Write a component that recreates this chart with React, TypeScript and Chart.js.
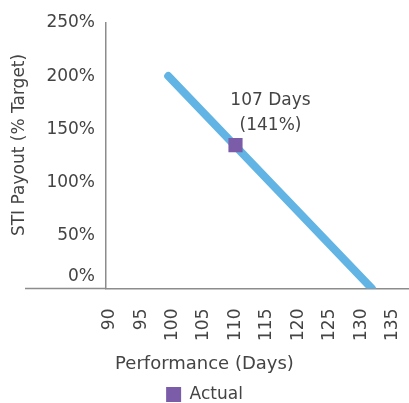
import { useEffect, useRef } from 'react';
import { Chart, registerables } from 'chart.js';

Chart.register(...registerables);

const xTicks = [90, 95, 100, 105, 110, 115, 120, 125, 130, 135];
const yTicks = [0, 50, 100, 150, 200, 250];
const payoutCurveX = [99.3, 131.7];
const payoutCurveY = [200, 0];
const actualX = [110];
const actualY = [135];
const actualLabel = ['107 Days', '(141%)'];
const legendLabel = 'Actual';
const curveLabel = 'Payout curve';
const xTitle = 'Performance (Days)';
const yTitle = 'STI Payout (% Target)';

const FONT = "'DejaVu Sans', sans-serif";
const TEXT = '#444444';
const AXIS = '#8c8c8c';
const BLUE = '#62b4e4';
const PURPLE = '#7a5ca8';

export default function App() {
  const ref = useRef<HTMLCanvasElement | null>(null);

  useEffect(() => {
    document.body.style.margin = '0';
    const canvas = ref.current;
    if (!canvas) return;

    const axisExtension = {
      id: 'axisExtension',
      beforeDatasetsDraw(chart: any) {
        const { ctx, chartArea, scales } = chart;
        const y = scales.y.getPixelForValue(0);
        ctx.save();
        ctx.strokeStyle = AXIS;
        ctx.lineWidth = 1.5;
        ctx.beginPath();
        ctx.moveTo(chartArea.left - 81, y);
        ctx.lineTo(chartArea.left, y);
        ctx.stroke();
        ctx.restore();
      },
    };

    const pointLabel = {
      id: 'pointLabel',
      afterDatasetsDraw(chart: any) {
        const meta = chart.getDatasetMeta(1);
        const el = meta.data[0];
        if (!el) return;
        const { ctx } = chart;
        ctx.save();
        ctx.fillStyle = TEXT;
        ctx.font = `17px ${FONT}`;
        ctx.textAlign = 'center';
        ctx.textBaseline = 'middle';
        actualLabel.forEach((line, i) => {
          ctx.fillText(line, el.x + 35, el.y - 45 + i * 25);
        });
        ctx.restore();
      },
    };

    const chart = new Chart(canvas, {
      type: 'scatter',
      data: {
        datasets: [
          {
            type: 'line',
            label: curveLabel,
            data: payoutCurveX.map((x, i) => ({ x, y: payoutCurveY[i] })),
            borderColor: BLUE,
            backgroundColor: BLUE,
            borderWidth: 8,
            borderCapStyle: 'round',
            pointRadius: 0,
            showLine: true,
            fill: false,
            order: 1,
          } as any,
          {
            label: legendLabel,
            data: actualX.map((x, i) => ({ x, y: actualY[i] })),
            backgroundColor: PURPLE,
            borderColor: PURPLE,
            borderWidth: 0,
            pointStyle: 'rect',
            pointRadius: 10,
            order: 0,
          } as any,
        ],
      },
      options: {
        animation: false,
        responsive: true,
        maintainAspectRatio: false,
        layout: { autoPadding: false, padding: { top: 23, right: 0, bottom: -10, left: 0 } },
        scales: {
          x: {
            type: 'linear',
            min: 89.4,
            max: 137.6,
            afterBuildTicks: (scale: any) => {
              scale.ticks = xTicks.map((v) => ({ value: v }));
            },
            afterFit: (scale: any) => {
              scale.height = 51.4;
              scale.paddingRight = 0;
              scale.paddingLeft = 0;
            },
            grid: { display: true, drawOnChartArea: false, drawTicks: false, color: 'rgba(0,0,0,0)' },
            border: { display: true, color: AXIS, width: 1.5 },
            ticks: {
              minRotation: 90,
              maxRotation: 90,
              padding: 20,
              color: TEXT,
              font: { family: FONT, size: 17 },
              autoSkip: false,
            },
          },
          y: {
            type: 'linear',
            min: 0,
            max: 250,
            afterBuildTicks: (scale: any) => {
              scale.ticks = yTicks.map((v) => ({ value: v }));
            },
            afterFit: (scale: any) => {
              scale.width = 106;
              scale.paddingTop = 0;
              scale.paddingBottom = 0;
            },
            grid: { display: true, drawOnChartArea: false, drawTicks: false, color: 'rgba(0,0,0,0)' },
            border: { display: true, color: AXIS, width: 1.5 },
            ticks: {
              padding: 11,
              autoSkip: false,
              color: TEXT,
              font: (ctx: any) =>
                ctx.tick && ctx.tick.value === 0
                  ? { family: FONT, size: 17, lineHeight: 1.4 }
                  : { family: FONT, size: 17 },
              callback: (v: any) => (v === 0 ? ['0%', ''] : `${v}%`),
            },
            title: {
              display: true,
              text: '    ' + yTitle,
              color: TEXT,
              font: { family: FONT, size: 17 },
              padding: { top: 9, bottom: 17 },
            },
          },
        },
        plugins: {
          legend: {
            position: 'bottom',
            labels: {
              filter: (item: any) => item.datasetIndex === 1,
              boxWidth: 15,
              boxHeight: 15,
              color: TEXT,
              font: { family: FONT, size: 17 },
              padding: 0,
            },
          },
          title: {
            display: true,
            position: 'bottom',
            text: xTitle,
            color: TEXT,
            font: { family: FONT, size: 18, weight: 'normal' },
            padding: { top: 14, bottom: 10.5 },
            weight: 500,
          } as any,
          tooltip: { enabled: false },
        },
      },
      plugins: [axisExtension, pointLabel],
    });

    return () => chart.destroy();
  }, []);

  return (
    <div style={{ width: 409, height: 403, position: 'relative' }}>
      <canvas ref={ref} />
    </div>
  );
}
